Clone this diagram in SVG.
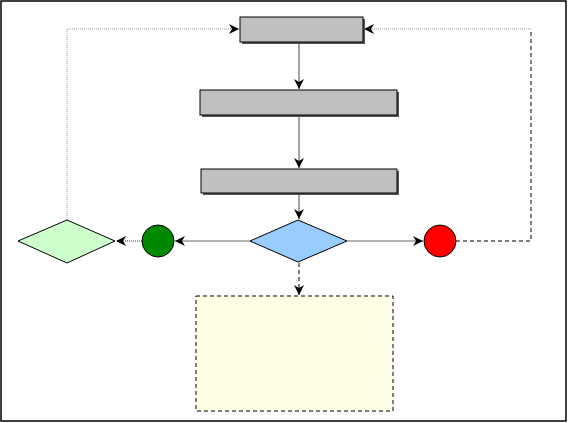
<svg xmlns="http://www.w3.org/2000/svg" width="568" height="423" viewBox="0 0 568 423">
<style>
.box{fill:#c0c0c0;stroke:#000;stroke-width:1}
.sh{fill:#555}
.c{fill:none;stroke:#666;stroke-width:1.2}
.dash{stroke:#000;stroke-dasharray:4 3;stroke-width:1}
.dot{stroke:#999;stroke-dasharray:1 1;stroke-width:1}
</style>
<defs>
<marker id="ah" markerWidth="12" markerHeight="10" refX="10" refY="5" orient="auto" markerUnits="userSpaceOnUse">
<path d="M0,0 L10,5 L0,10 L3,5 Z" fill="#000"/>
</marker>
</defs>
<rect x="1" y="1" width="565" height="420" fill="#fff" stroke="#000" stroke-width="1.5"/>
<g id="connectors">
<line class="c" x1="299" y1="43" x2="299" y2="89" marker-end="url(#ah)"/>
<line class="c" x1="299" y1="116" x2="299" y2="168" marker-end="url(#ah)"/>
<line class="c" x1="299" y1="194" x2="299" y2="219" marker-end="url(#ah)"/>
<line class="c" x1="250" y1="241" x2="175" y2="241" marker-end="url(#ah)"/>
<line class="c dot" x1="142" y1="241" x2="116" y2="241" style="stroke:#333" marker-end="url(#ah)"/>
<line class="c" x1="347" y1="241" x2="423" y2="241" marker-end="url(#ah)"/>
<line class="c dash" x1="299" y1="263" x2="299" y2="295" marker-end="url(#ah)"/>
<polyline class="c dash" points="456,241 531,241 531,29"/>
<polyline class="c dot" points="531,29 364,29" marker-end="url(#ah)"/>
<polyline class="c dot" points="67,220 67,29 239,29" marker-end="url(#ah)"/>
</g>
<g id="box1"><rect class="sh" x="242" y="19" width="123" height="25"/><rect class="box" x="240" y="17" width="123" height="25"/></g>
<g id="box2"><rect class="sh" x="202" y="92" width="197" height="25"/><rect class="box" x="200" y="90" width="197" height="25"/></g>
<g id="box3"><rect class="sh" x="203" y="171" width="196" height="24"/><rect class="box" x="201" y="169" width="196" height="24"/></g>
<g id="decision"><polygon points="298,220 347,241 298,262 250,241" fill="#99ccff" stroke="#000"/></g>
<g id="greendiamond"><polygon points="67,220 115,241 67,263 18,241" fill="#ccffcc" stroke="#000"/></g>
<g id="greencircle"><circle cx="158" cy="241" r="16" fill="#008800" stroke="#000"/></g>
<g id="redcircle"><circle cx="440" cy="241" r="16" fill="#ff0000" stroke="#000"/></g>
<g id="note"><rect x="196" y="296" width="197" height="115" fill="#ffffe6" stroke="#000" stroke-dasharray="4 3"/></g>
</svg>
